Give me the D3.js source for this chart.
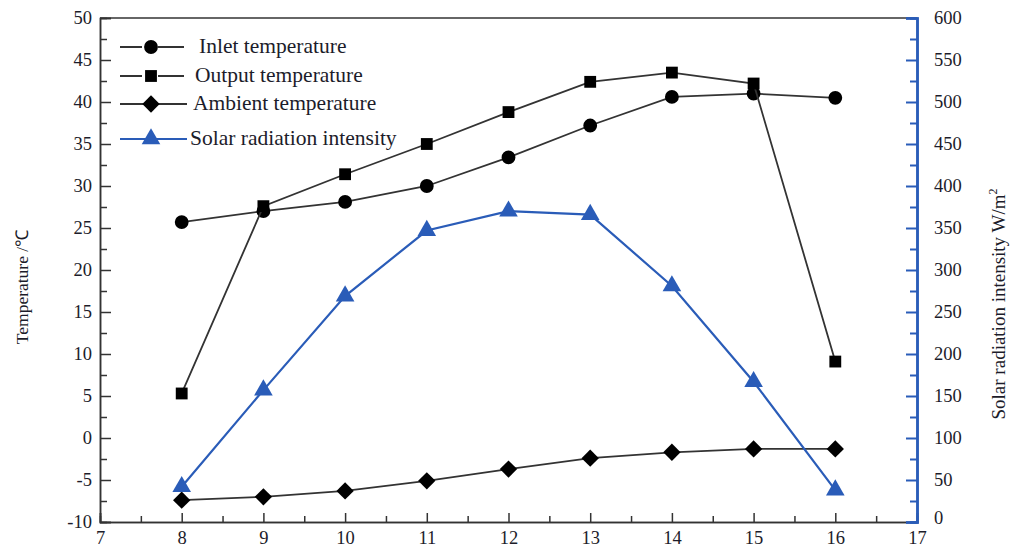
<!DOCTYPE html>
<html><head><meta charset="utf-8">
<script src="https://cdn.jsdelivr.net/npm/d3@7"></script>
<style>body{margin:0;background:#fff}svg{display:block}</style>
</head><body>
<script>
const hours = [8, 9, 10, 11, 12, 13, 14, 15, 16];
const inletTemp = [25.7, 27.0, 28.1, 30.0, 33.4, 37.2, 40.6, 41.0, 40.5];
const outputTemp = [5.3, 27.6, 31.4, 35.0, 38.8, 42.4, 43.5, 42.2, 9.1];
const ambientTemp = [-7.4, -7.0, -6.3, -5.1, -3.7, -2.4, -1.7, -1.3, -1.3];
const solarRadiation = [42, 157, 269, 347, 370, 366, 281, 167, 38];
const seriesNames = ["Inlet temperature", "Output temperature", "Ambient temperature", "Solar radiation intensity"];
const xTicks = [7, 8, 9, 10, 11, 12, 13, 14, 15, 16, 17];
const leftTicks = [-10, -5, 0, 5, 10, 15, 20, 25, 30, 35, 40, 45, 50];
const rightTicks = [0, 50, 100, 150, 200, 250, 300, 350, 400, 450, 500, 550, 600];

const W = 1015, H = 553;
const m = {l: 100, r: 98, t: 18, b: 31};
const svg = d3.select("body").append("svg").attr("width", W).attr("height", H);
const x = d3.scaleLinear().domain([7, 17]).range([m.l, W - m.r]);
const yL = d3.scaleLinear().domain([-10, 50]).range([H - m.b, m.t]);
const yR = d3.scaleLinear().domain([0, 600]).range([H - m.b, m.t]);
const font = "'Liberation Serif', 'Times New Roman', serif";
const dark = "#333";
const blue = "#2a5cb8";
const txt = "#1c1c2a";

// frame top
svg.append("line").attr("x1", m.l).attr("x2", W - m.r).attr("y1", m.t).attr("y2", m.t).attr("stroke", dark).attr("stroke-width", 1.5);

// bottom axis
const gx = svg.append("g").attr("transform", `translate(0,${H - m.b})`)
  .call(d3.axisBottom(x).tickValues(xTicks).tickSize(-9).tickPadding(16).tickFormat(d3.format("d")));
gx.append("g").call(d3.axisBottom(x).tickValues(d3.range(7.5, 17, 1)).tickSize(-6).tickFormat(""));
// left axis
const gl = svg.append("g").attr("transform", `translate(${m.l},0)`)
  .call(d3.axisLeft(yL).tickValues(leftTicks).tickSize(-11).tickPadding(6).tickFormat(d => d));
gl.append("g").call(d3.axisLeft(yL).tickValues(d3.range(-7.5, 50, 5)).tickSize(-7).tickFormat(""));
// right axis
const gr = svg.append("g").attr("transform", `translate(${W - m.r},0)`)
  .call(d3.axisRight(yR).tickValues(rightTicks).tickSize(-11).tickPadding(17).tickFormat(d => d));
gr.append("g").call(d3.axisRight(yR).tickValues(d3.range(25, 600, 50)).tickSize(-7).tickFormat(""));

[gx, gl, gr].forEach(g => {
  g.selectAll("path.domain").attr("stroke", dark).attr("stroke-width", 1.5);
  g.selectAll("line").attr("stroke", dark).attr("stroke-width", 1.5);
  g.selectAll("text").attr("font-family", font).attr("font-size", 18.5).attr("fill", txt);
});
gr.selectAll("path.domain").attr("stroke", blue).attr("stroke-width", 2.5);
gr.selectAll("line").attr("stroke", blue).attr("stroke-width", 2);
gx.selectAll(".tick text").attr("dy", "0.35em");
gl.selectAll(".tick text").attr("dx", "-2");
gr.selectAll(".tick text").filter(d => d === 0).attr("dy", "0.1em");

// axis titles
svg.append("text").attr("transform", `translate(28,${(m.t + H - m.b) / 2 + 17}) rotate(-90)`)
  .attr("text-anchor", "middle").attr("font-family", font).attr("font-size", 17.5).attr("fill", txt)
  .text("Temperature /℃");
const rt = svg.append("text").attr("transform", `translate(1005,${(m.t + H - m.b) / 2 + 34}) rotate(-90)`)
  .attr("text-anchor", "middle").attr("font-family", font).attr("font-size", 19).attr("fill", txt);
rt.append("tspan").text("Solar radiation intensity W/m");
rt.append("tspan").attr("font-size", 12).attr("dy", "-8").text("2");

// series
const series = [
  {vals: inletTemp, y: yL, color: dark, sym: d3.symbolCircle, size: 150, rot: 0},
  {vals: outputTemp, y: yL, color: dark, sym: d3.symbolSquare, size: 140, rot: 0},
  {vals: ambientTemp, y: yL, color: dark, sym: d3.symbolSquare, size: 150, rot: 45},
  {vals: solarRadiation, y: yR, color: blue, sym: d3.symbolTriangle, size: 150, rot: 0}
];
series.forEach(s => {
  const line = d3.line().x((d, i) => x(hours[i])).y(d => s.y(d));
  svg.append("path").datum(s.vals).attr("d", line).attr("fill", "none")
    .attr("stroke", s.color).attr("stroke-width", s.color === blue ? 2.2 : 1.8);
  svg.selectAll(null).data(s.vals).enter().append("path")
    .attr("d", d3.symbol().type(s.sym).size(s.size))
    .attr("transform", (d, i) => `translate(${x(hours[i])},${s.y(d)}) rotate(${s.rot})`)
    .attr("fill", s.color === blue ? blue : "#000");
});

// legend
const legY = [47, 76, 104, 139];
const legTX = [199, 195, 193, 190];
series.forEach((s, i) => {
  const g = svg.append("g");
  if (i < 2) {
    g.append("line").attr("x1", 120).attr("x2", 142).attr("y1", legY[i]).attr("y2", legY[i]).attr("stroke", s.color).attr("stroke-width", 2);
    g.append("line").attr("x1", 158).attr("x2", 184).attr("y1", legY[i]).attr("y2", legY[i]).attr("stroke", s.color).attr("stroke-width", 2);
  } else {
    g.append("line").attr("x1", 120).attr("x2", 187).attr("y1", legY[i]).attr("y2", legY[i]).attr("stroke", s.color).attr("stroke-width", 2);
  }
  g.append("path").attr("d", d3.symbol().type(s.sym).size(s.size))
    .attr("transform", `translate(151,${legY[i]}) rotate(${s.rot})`).attr("fill", s.color === blue ? blue : "#000");
  g.append("text").attr("x", legTX[i]).attr("y", legY[i] + 6).attr("font-family", font).attr("font-size", 21.5)
    .attr("fill", txt).text(seriesNames[i]);
});
</script>
</body></html>
